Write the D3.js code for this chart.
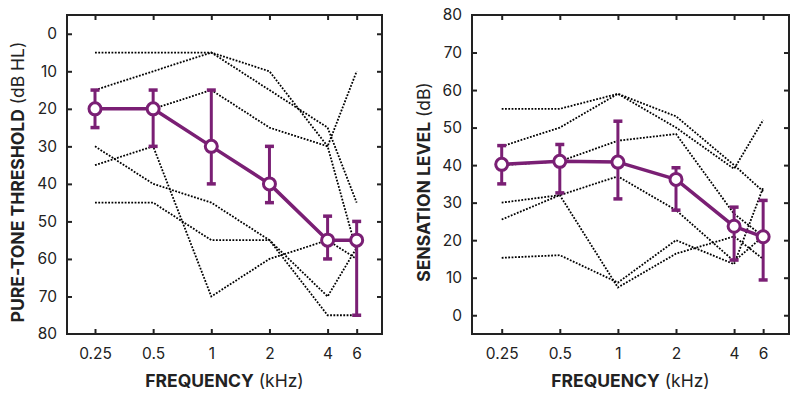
<!DOCTYPE html>
<html>
<head>
<meta charset="utf-8">
<script src="https://cdn.jsdelivr.net/npm/d3@7"></script>
<style>
  html, body { margin: 0; padding: 0; background: #fff; }
  svg { display: block; }
  text { font-family: Inter, "Open Sans", sans-serif; fill: #222; }
</style>
</head>
<body>
<svg id="chart" width="800" height="394"></svg>
<script>
// ---------- DATA ----------
const freqs = [0.25, 0.5, 1, 2, 4, 6];
const freqLabels = ["0.25", "0.5", "1", "2", "4", "6"];
const yTickValues = [0, 10, 20, 30, 40, 50, 60, 70, 80];

// Left panel: pure-tone threshold (dB HL)
const thrMean = [20, 20, 30, 40, 55, 55];
const thrErrTop = [15, 15, 15, 30, 48.6, 50];
const thrErrBottom = [25, 30, 40, 45, 60, 75];
const thrSubj1 = [5, 5, 5, 10, 30, 58];
const thrSubj2 = [15, 10, 5, 15, 25, 45];
const thrSubj3 = [20, 20, 15, 25, 30, 10];
const thrSubj4 = [30, 40, 45, 55, 75, 75];
const thrSubj5 = [35, 30, 70, 60, 55, 60];
const thrSubj6 = [45, 45, 55, 55, 70, 57];

// Right panel: sensation level (dB)
const slMean = [40.2, 41, 40.8, 36.2, 23.7, 20.9];
const slErrTop = [45.2, 45.5, 51.7, 39.3, 28.8, 30.6];
const slErrBottom = [35, 32.6, 31, 28, 14.7, 9.4];
const slSubj1 = [55, 55, 59, 53, 40, 33];
const slSubj2 = [45, 50, 59, 50, 39, 52];
const slSubj3 = [40, 41, 46.5, 48.3, 27, 21];
const slSubj4 = [30, 32, 37, 28, 14.4, 21];
const slSubj5 = [25.5, 32, 7.4, 16.4, 21, 15];
const slSubj6 = [15.3, 16, 8.7, 20, 13.6, 34];

// ---------- LAYOUT ----------
const purple = "#7a1f74";
const ink = "#222";
const svg = d3.select("#chart");

const panels = [
  { x0: 67, x1: 382, y0: 15, y1: 334, first: 95, oct: 58.15, invert: true,
    mean: thrMean, top: thrErrTop, bottom: thrErrBottom,
    subjects: [thrSubj1, thrSubj2, thrSubj3, thrSubj4, thrSubj5, thrSubj6],
    titleBold: "PURE-TONE THRESHOLD", titleNormal: " (dB HL)", titleX: 17 },
  { x0: 472, x1: 789, y0: 15, y1: 334, first: 501.7, oct: 58.1, invert: false,
    mean: slMean, top: slErrTop, bottom: slErrBottom,
    subjects: [slSubj1, slSubj2, slSubj3, slSubj4, slSubj5, slSubj6],
    titleBold: "SENSATION LEVEL", titleNormal: " (dB)", titleX: 423 }
];

panels.forEach(p => {
  // 6 kHz sits half an octave past 4 kHz
  const octIdx = [0, 1, 2, 3, 4, 4.5];
  const x = d3.scaleLinear().domain(freqs).range(octIdx.map(k => p.first + k * p.oct));
  const y = d3.scaleLinear().domain([-5, 80])
    .range(p.invert ? [p.y0, p.y1] : [p.y1, p.y0]);

  const g = svg.append("g");

  // subject dotted lines
  const line = d3.line().x((d, i) => x(freqs[i])).y(d => y(d));
  p.subjects.forEach(s => {
    g.append("path").attr("d", line(s))
      .attr("fill", "none").attr("stroke", "#000")
      .attr("stroke-width", 1.8).attr("stroke-dasharray", "1.8 1.5");
  });

  // frame
  g.append("rect").attr("x", p.x0).attr("y", p.y0)
    .attr("width", p.x1 - p.x0).attr("height", p.y1 - p.y0)
    .attr("fill", "none").attr("stroke", ink).attr("stroke-width", 2);

  // axes (inward ticks)
  const xb = d3.axisBottom(x).tickValues(freqs).tickFormat((d, i) => freqLabels[i])
    .tickSizeInner(-5).tickSizeOuter(0).tickPadding(14);
  const gxb = g.append("g").attr("transform", `translate(0,${p.y1})`).call(xb);
  const xt = d3.axisTop(x).tickValues(freqs).tickFormat("").tickSizeInner(-5).tickSizeOuter(0);
  const gxt = g.append("g").attr("transform", `translate(0,${p.y0})`).call(xt);
  const yTicksInside = yTickValues.filter(v => y(v) > p.y0 + 1 && y(v) < p.y1 - 1);
  const yl = d3.axisLeft(y).tickValues(yTickValues).tickFormat(d3.format("d"))
    .tickSizeInner(0).tickSizeOuter(0).tickPadding(10);
  const gyl = g.append("g").attr("transform", `translate(${p.x0},0)`).call(yl);
  const ylt = d3.axisLeft(y).tickValues(yTicksInside).tickFormat("").tickSizeInner(-5).tickSizeOuter(0);
  const gylt = g.append("g").attr("transform", `translate(${p.x0},0)`).call(ylt);
  const yr = d3.axisRight(y).tickValues(yTicksInside).tickFormat("").tickSizeInner(-5).tickSizeOuter(0);
  const gyr = g.append("g").attr("transform", `translate(${p.x1},0)`).call(yr);

  [gxb, gxt, gyl, gylt, gyr].forEach(a => {
    a.select(".domain").remove();
    a.selectAll(".tick line").attr("stroke", ink).attr("stroke-width", 2);
    a.selectAll(".tick text").attr("font-size", 15.5).attr("fill", ink)
      .style("font-family", "Inter, sans-serif");
  });

  // error bars
  const eb = g.append("g");
  freqs.forEach((f, i) => {
    const cx = x(f);
    eb.append("line").attr("x1", cx).attr("x2", cx)
      .attr("y1", y(p.top[i])).attr("y2", y(p.bottom[i]))
      .attr("stroke", purple).attr("stroke-width", 3);
    [p.top[i], p.bottom[i]].forEach(v => {
      eb.append("line").attr("x1", cx - 4.5).attr("x2", cx + 4.5)
        .attr("y1", y(v)).attr("y2", y(v))
        .attr("stroke", purple).attr("stroke-width", 3.5);
    });
  });

  // mean line
  g.append("path").attr("d", line(p.mean)).attr("fill", "none")
    .attr("stroke", purple).attr("stroke-width", 3.5).attr("stroke-linejoin", "round");

  // markers
  g.selectAll(".mk").data(p.mean).join("circle")
    .attr("cx", (d, i) => x(freqs[i])).attr("cy", d => y(d)).attr("r", 6)
    .attr("fill", "#fff").attr("stroke", purple).attr("stroke-width", 3);

  // x title
  const cxT = (p.x0 + p.x1) / 2;
  const xt2 = g.append("text").attr("x", cxT).attr("y", 387)
    .attr("text-anchor", "middle").attr("font-size", 17.5);
  xt2.append("tspan").attr("font-weight", 700).text("FREQUENCY");
  xt2.append("tspan").attr("font-weight", 400).text(" (kHz)");

  // y title
  const ytT = g.append("text")
    .attr("transform", `translate(${p.titleX + 6.5},182) rotate(-90)`)
    .attr("text-anchor", "middle").attr("font-size", 17.5);
  ytT.append("tspan").attr("font-weight", 700).text(p.titleBold);
  ytT.append("tspan").attr("font-weight", 400).text(p.titleNormal);
});
</script>
</body>
</html>
